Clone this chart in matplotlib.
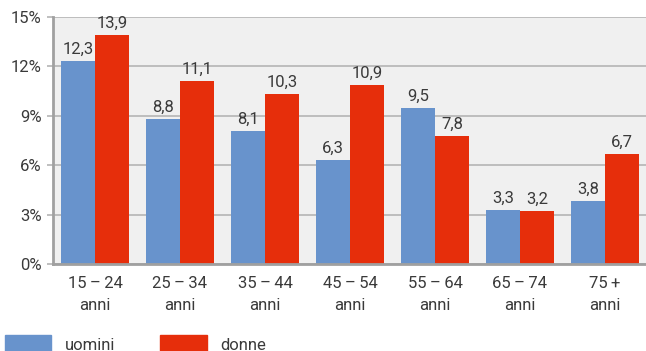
import matplotlib
matplotlib.use("Agg")
import matplotlib.pyplot as plt
import numpy as np
from matplotlib.patches import Patch

plt.rcParams['font.family'] = ['Roboto', 'DejaVu Sans']

# data
categories = ["15\u2009\u2013\u200924\nanni", "25\u2009\u2013\u200934\nanni", "35\u2009\u2013\u200944\nanni",
              "45\u2009\u2013\u200954\nanni", "55\u2009\u2013\u200964\nanni", "65\u2009\u2013\u200974\nanni",
              "75\u2009+\nanni"]
uomini = [12.3, 8.8, 8.1, 6.3, 9.5, 3.3, 3.8]
donne = [13.9, 11.1, 10.3, 10.9, 7.8, 3.2, 6.7]
yticks = [0, 3, 6, 9, 12, 15]

blue = '#6893cc'
red = '#e62e0b'
txt = '#3a3a3a'

fig = plt.figure(figsize=(6.46, 3.51), dpi=100)
ax = fig.add_axes([52.5 / 646, 87 / 351, 595 / 646, 247 / 351])
ax.set_facecolor('#f0f0f0')

x = np.arange(len(categories))
w = 0.4
b1 = ax.bar(x - w / 2, uomini, w, color=blue, zorder=3)
b2 = ax.bar(x + w / 2, donne, w, color=red, zorder=3)

for bars, vals in ((b1, uomini), (b2, donne)):
    for r, v in zip(bars, vals):
        ax.annotate(f'{v:.1f}'.replace('.', ','), (r.get_x() + r.get_width() / 2, v),
                    xytext=(0, 3), textcoords='offset points', ha='center', va='bottom',
                    fontsize=12, color=txt, zorder=4)

ax.set_xlim(-0.5, len(categories) - 0.5)
ax.set_ylim(0, 15)
ax.set_yticks(yticks)
ax.set_yticklabels([f'{t}%' for t in yticks])
ax.set_xticks(x)
ax.set_xticklabels(categories, linespacing=1.5)
ax.grid(axis='y', color='#b4b4b4', linewidth=1.2, zorder=1)
ax.tick_params(axis='y', length=4, width=1.2, color='#b4b4b4', labelsize=12, labelcolor=txt, pad=4)
ax.tick_params(axis='x', length=0, labelsize=12, labelcolor=txt, pad=9)
for s in ('top', 'right'):
    ax.spines[s].set_visible(False)
for s in ('left', 'bottom'):
    ax.spines[s].set_color('#a0a0a0')
    ax.spines[s].set_linewidth(2)
    ax.spines[s].set_zorder(5)

handles = [Patch(color=blue, label='uomini'), Patch(color=red, label='donne')]
fig.legend(handles=handles, loc='lower left', bbox_to_anchor=(-0.008, -0.035), ncol=2, frameon=False,
           fontsize=12, handlelength=2.8, handleheight=1.3, columnspacing=2.7, handletextpad=0.8,
           labelcolor=txt, borderaxespad=0.2, borderpad=0.4)

fig.savefig('out.png', dpi=100)
